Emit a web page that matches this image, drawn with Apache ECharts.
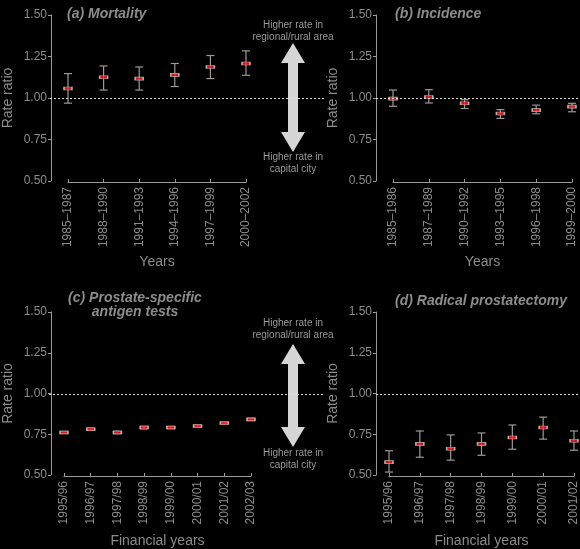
<!DOCTYPE html>
<html lang="en">
<head>
<meta charset="UTF-8">
<script src="https://cdn.jsdelivr.net/npm/echarts@6/dist/echarts.min.js"></script>
<title>Rate ratios</title>
<style>
  *{margin:0;padding:0}
  html,body{width:100%;height:100%;background:#000;}
  #main{width:580px;height:549px;}
</style>
</head>
<body>
<div id="main"></div>
<script type="text/javascript">
// data
var yearsA = ['1985–1987','1988–1990','1991–1993','1994–1996','1997–1999','2000–2002'];
var rateA  = [1.057, 1.125, 1.117, 1.139, 1.187, 1.208];
var lowA   = [0.969, 1.048, 1.048, 1.069, 1.117, 1.137];
var highA  = [1.147, 1.193, 1.187, 1.208, 1.256, 1.284];

var yearsB = ['1985–1986','1987–1989','1990–1992','1993–1995','1996–1998','1999–2000'];
var rateB  = [0.996, 1.006, 0.968, 0.907, 0.927, 0.948];
var lowB   = [0.950, 0.970, 0.937, 0.877, 0.905, 0.917];
var highB  = [1.048, 1.050, 0.990, 0.930, 0.957, 0.968];

var yearsC = ['1995/96','1996/97','1997/98','1998/99','1999/00','2000/01','2001/02','2002/03'];
var rateC  = [0.761, 0.781, 0.761, 0.791, 0.791, 0.801, 0.819, 0.841];
var lowC   = [0.754, 0.774, 0.753, 0.783, 0.784, 0.795, 0.813, 0.834];
var highC  = [0.768, 0.788, 0.769, 0.799, 0.798, 0.807, 0.825, 0.848];

var yearsD = ['1995/96','1996/97','1997/98','1998/99','1999/00','2000/01','2001/02'];
var rateD  = [0.579, 0.691, 0.661, 0.691, 0.730, 0.791, 0.710];
var lowD   = [0.518, 0.609, 0.591, 0.621, 0.658, 0.720, 0.652];
var highD  = [0.649, 0.770, 0.746, 0.758, 0.807, 0.855, 0.770];

var yTicks = ['0.50','0.75','1.00','1.25','1.50'];

var txt = '#8c8c8c';
var axisCol = '#9a9a9a';

var myChart = echarts.init(document.getElementById('main'));

var grid = [], xAxis = [], yAxis = [], series = [];

function errItem(params, api){
  var x = api.value(0);
  var lo = api.coord([x, api.value(1)]);
  var hi = api.coord([x, api.value(2)]);
  var w = 4;
  var st = {stroke: axisCol, lineWidth: 1.2};
  return {type:'group', children:[
    {type:'line', shape:{x1:lo[0], y1:lo[1], x2:hi[0], y2:hi[1]}, style:st},
    {type:'line', shape:{x1:lo[0]-w, y1:lo[1], x2:lo[0]+w, y2:lo[1]}, style:st},
    {type:'line', shape:{x1:hi[0]-w, y1:hi[1], x2:hi[0]+w, y2:hi[1]}, style:st}
  ]};
}

// g: data grid geometry, r: reference line grid geometry
function panel(cats, rate, low, high, g, r, xName, nameGap){
  var gi = grid.length;
  grid.push({left:g.left, top:g.top, width:g.width, height:g.height});
  grid.push({left:r.left, top:g.top, width:r.width, height:g.height});

  xAxis.push({
    type:'category', gridIndex:gi, data:cats, boundaryGap:false, offset:1,
    axisLine:{lineStyle:{color:axisCol, width:1.2}},
    axisTick:{inside:true, length:3, alignWithLabel:true, lineStyle:{color:axisCol}},
    axisLabel:{rotate:90, color:txt, fontSize:12, margin:5, interval:0, fontFamily:'Liberation Sans, sans-serif'},
    name:xName, nameLocation:'middle', nameGap:nameGap,
    nameTextStyle:{color:txt, fontSize:14, fontFamily:'Liberation Sans, sans-serif'}
  });
  xAxis.push({type:'value', gridIndex:gi+1, min:0, max:1, show:false});

  yAxis.push({
    type:'value', gridIndex:gi, min:0.5, max:1.5, interval:0.25, offset:g.off,
    axisLine:{show:true, lineStyle:{color:axisCol, width:1}},
    axisTick:{show:true, length:3, lineStyle:{color:axisCol}},
    splitLine:{show:false},
    axisLabel:{color:txt, fontSize:12, margin:4, fontFamily:'Liberation Sans, sans-serif',
      formatter:function(v){ return yTicks[Math.round((v-0.5)/0.25)]; }},
    name:'Rate ratio', nameLocation:'middle', nameRotate:90, nameGap:36,
    nameTextStyle:{color:txt, fontSize:14, fontFamily:'Liberation Sans, sans-serif'}
  });
  yAxis.push({type:'value', gridIndex:gi+1, min:0.5, max:1.5, show:false});

  var errData = cats.map(function(c, i){ return [i, low[i], high[i]]; });
  series.push({
    type:'custom', xAxisIndex:gi, yAxisIndex:gi, renderItem:errItem,
    data:errData, z:3, silent:true
  });
  series.push({
    type:'scatter', xAxisIndex:gi, yAxisIndex:gi, data:rate,
    symbol:'rect', symbolSize:[8,3], z:4, silent:true,
    itemStyle:{color:'#ff1a1a', borderColor:'#d0d0d0', borderWidth:1}
  });
  series.push({
    type:'line', xAxisIndex:gi+1, yAxisIndex:gi+1, data:[], silent:true, z:5,
    markLine:{symbol:'none', silent:true, label:{show:false},
      lineStyle:{color:'#dcdcdc', type:[2,2], width:1},
      data:[{yAxis:1}]}
  });
}

panel(yearsA, rateA, lowA, highA, {left:67, top:15, width:179, height:166, off:17}, {left:50, width:275}, 'Years', 73);
panel(yearsB, rateB, lowB, highB, {left:393, top:15, width:179, height:166, off:17}, {left:376, width:204}, 'Years', 73);
panel(yearsC, rateC, lowC, highC, {left:62, top:312, width:189, height:165, off:13}, {left:49, width:276}, 'Financial years', 58);
panel(yearsD, rateD, lowD, highD, {left:389, top:312, width:186, height:165, off:13}, {left:376, width:204}, 'Financial years', 58);

function arrow(cx, top, bottom){
  var hw = 12, sw = 5, hh = 20;
  return {
    type:'polygon', z:0, silent:true,
    shape:{points:[[cx, top],[cx+hw, top+hh],[cx+sw, top+hh],[cx+sw, bottom-hh],[cx+hw, bottom-hh],
                   [cx, bottom],[cx-hw, bottom-hh],[cx-sw, bottom-hh],[cx-sw, top+hh],[cx-hw, top+hh]]},
    style:{fill:'#d6d6d6'}
  };
}
function note(cx, y, s){
  return {type:'text', z:1, silent:true, x:cx, y:y,
    style:{text:s, fill:'#9a9a9a', font:'10px Liberation Sans, sans-serif', align:'center', verticalAlign:'middle', lineHeight:12}};
}

var titleStyle = {color:txt, fontSize:14, fontStyle:'italic', fontWeight:'bold', fontFamily:'Liberation Sans, sans-serif'};

var option = {
  backgroundColor:'#000',
  animation:false,
  title:[
    {text:'(a) Mortality', left:62, top:2, textStyle:titleStyle},
    {text:'(b) Incidence', left:390, top:2, textStyle:titleStyle},
    {text:'(c) Prostate-specific\nantigen tests', left:130, top:286, textAlign:'center', textStyle:Object.assign({lineHeight:14}, titleStyle)},
    {text:'(d) Radical prostatectomy', left:390, top:289, textStyle:titleStyle}
  ],
  grid:grid, xAxis:xAxis, yAxis:yAxis, series:series,
  graphic:[
    arrow(293, 43, 152),
    note(293, 31, 'Higher rate in\nregional/rural area'),
    note(293, 163, 'Higher rate in\ncapital city'),
    arrow(293, 344, 447),
    note(293, 329, 'Higher rate in\nregional/rural area'),
    note(293, 459, 'Higher rate in\ncapital city')
  ]
};
myChart.setOption(option);
</script>
</body>
</html>
